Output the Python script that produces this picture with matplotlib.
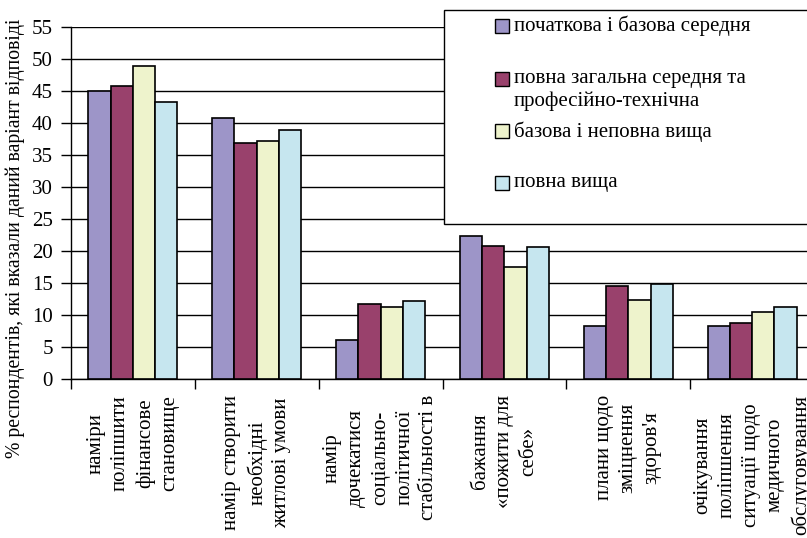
import numpy as np
import matplotlib.pyplot as plt
from matplotlib.patches import Rectangle

plt.rcParams['font.family'] = ['Liberation Serif', 'DejaVu Serif']
plt.rcParams['font.serif'] = ['Liberation Serif', 'DejaVu Serif']

# categories (x tick labels)
categories = [
    "наміри\nполіпшити\nфінансове\nстановище",
    "намір створити\nнеобхідні\nжитлові умови",
    "намір\nдочекатися\nсоціально-\nполітичної\nстабільності в",
    "бажання\n«пожити для\nсебе»",
    "плани щодо\nзміцнення\nздоров'я",
    "очікування\nполіпшення\nситуації щодо\nмедичного\nобслуговування",
]

series_names = [
    "початкова і базова середня",
    "повна загальна середня та\nпрофесійно-технічна",
    "базова і неповна вища",
    "повна вища",
]

primary = [45.0, 40.8, 6.1, 22.3, 8.3, 8.3]
secondary = [45.7, 36.8, 11.7, 20.8, 14.6, 8.8]
higher_basic = [48.9, 37.2, 11.2, 17.5, 12.3, 10.5]
higher_full = [43.2, 38.9, 12.2, 20.7, 14.8, 11.2]

colors = ['#9D95C8', '#99416C', '#EEF3CC', '#C6E6EF']
FS = 15

fig = plt.figure(figsize=(8.07, 5.38), dpi=100)
ax = fig.add_axes([71 / 807, 1 - 379.3 / 538, 743 / 807, 352.6 / 538])

x = np.arange(len(categories))
width = 0.18
all_series = [primary, secondary, higher_basic, higher_full]
for i, vals in enumerate(all_series):
    ax.bar(x + (i - 1.5) * width, vals, width, color=colors[i],
           edgecolor='black', linewidth=1.2, zorder=3)

ax.set_ylim(0, 55)
ax.set_xlim(-0.5, 5.5)
ax.set_yticks(np.arange(0, 56, 5))
ax.yaxis.grid(True, color='black', linewidth=1.0, zorder=0)
ax.set_axisbelow(True)

for s in ['top', 'right']:
    ax.spines[s].set_visible(False)
ax.spines['left'].set_linewidth(1.0)
ax.spines['bottom'].set_linewidth(1.0)

ax.set_xticks(x)
ax.set_xticklabels([])
ax.tick_params(axis='x', which='major', length=0)
ax.set_xticks(np.arange(-0.5, 6.0, 1.0), minor=True)
ax.tick_params(axis='x', which='minor', length=7, width=1.0, direction='out')
ax.tick_params(axis='y', length=7, width=1.0, direction='out', labelsize=FS, pad=6)

for xi, lab in zip(x, categories):
    ax.text(xi, -0.045, lab, transform=ax.get_xaxis_transform(), rotation=90,
            ha='center', va='top', multialignment='center', fontsize=FS,
            linespacing=1.37)

fig.text(15 / 807, 1 - 238 / 538, "% респондентів, які вказали даний варіант відповіді",
         rotation=90, ha='center', va='center', fontsize=14.2)

# legend box
fig.patches.append(Rectangle((444 / 807, 1 - 224 / 538), 400 / 807, 214 / 538,
                             transform=fig.transFigure, facecolor='white',
                             edgecolor='black', linewidth=1.0, zorder=5))
label_y = [26, 79, 131, 183]
for name, c, ly in zip(series_names, colors, label_y):
    fig.patches.append(Rectangle((495 / 807, 1 - (ly + 7) / 538), 14 / 807, 14 / 538,
                                 transform=fig.transFigure, facecolor=c,
                                 edgecolor='black', linewidth=1.0, zorder=6))
    fig.text(514 / 807, 1 - (ly - 10) / 538, name, ha='left', va='top',
             fontsize=FS, linespacing=1.26, zorder=7)

fig.savefig('out.png', dpi=100)
